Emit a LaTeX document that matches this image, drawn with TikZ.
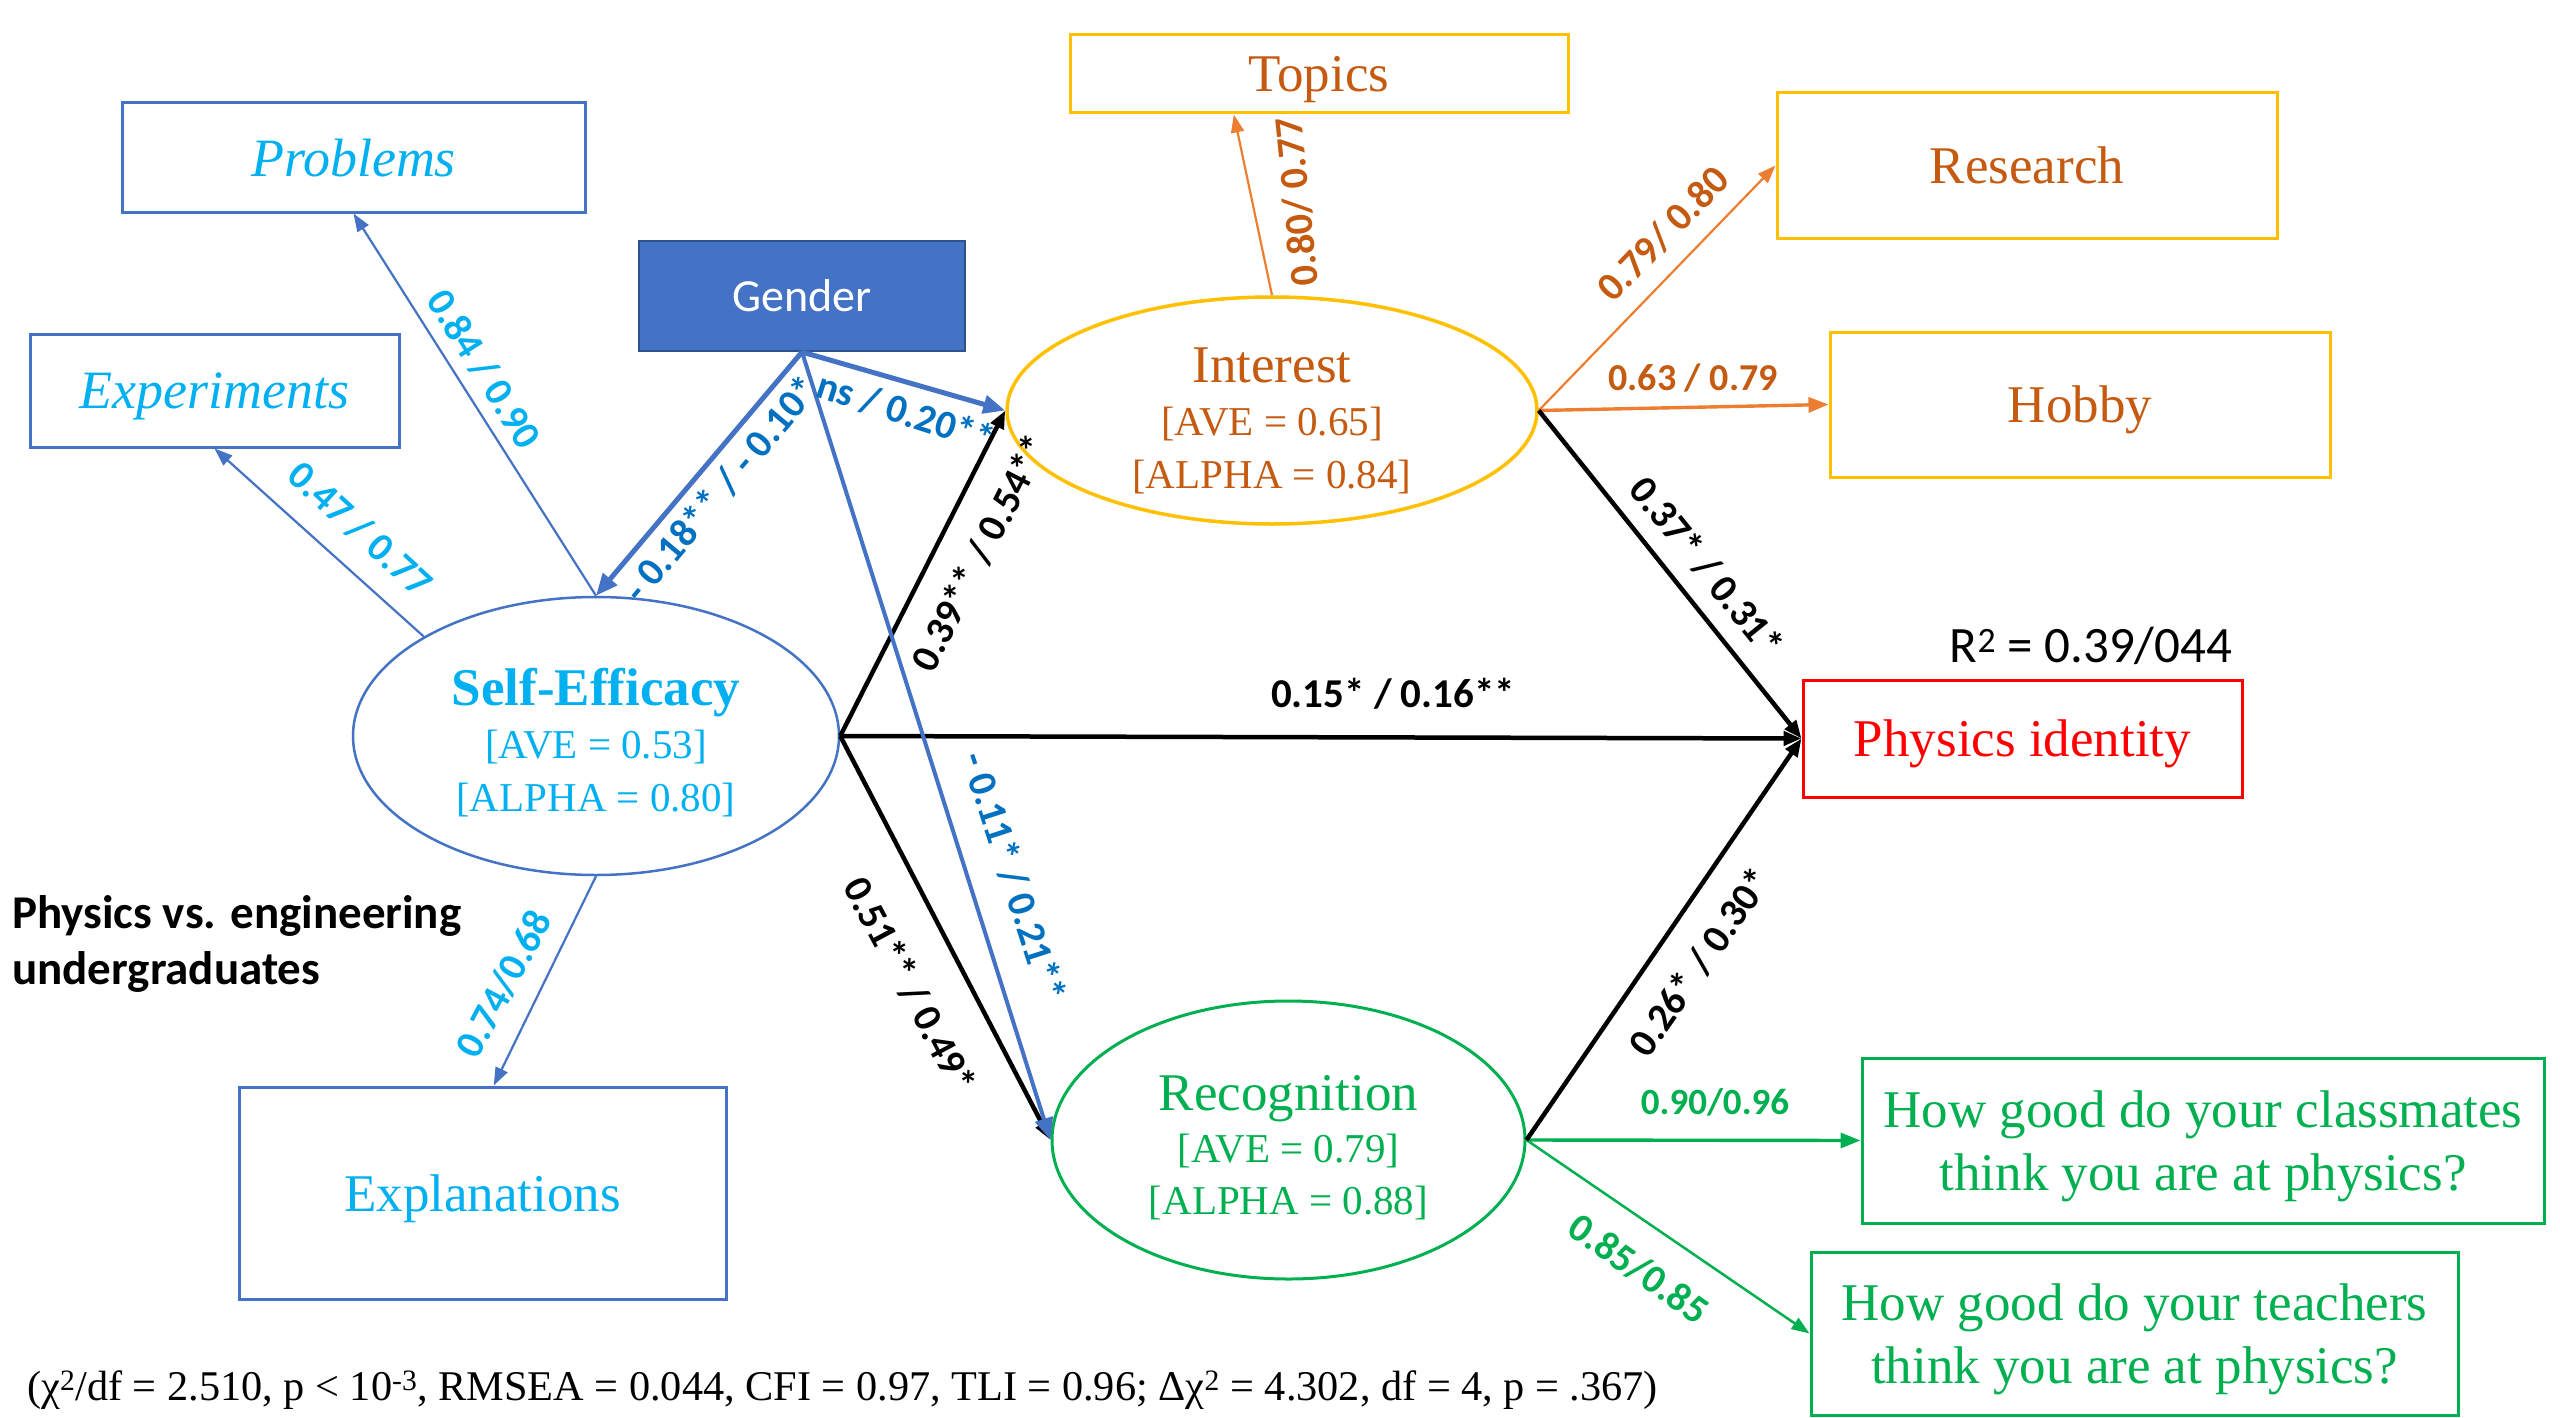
\documentclass[tikz,border=0pt]{standalone}
\usepackage{fontspec}
\setmainfont{Liberation Serif}
\newfontfamily\calfont{Carlito}
\usetikzlibrary{arrows.meta,shapes.geometric,calc}
\definecolor{seblue}{HTML}{4472C4}
\definecolor{gborder}{HTML}{2F528F}
\definecolor{cyanT}{HTML}{00B0F0}
\definecolor{gblue}{HTML}{0070C0}
\definecolor{brownT}{HTML}{C55A11}
\definecolor{orangeL}{HTML}{ED7D31}
\definecolor{goldC}{HTML}{FFC000}
\definecolor{greenC}{HTML}{00B050}
\definecolor{redC}{HTML}{FF0000}
\newcommand\ctext[2]{\makebox[0pt][c]{\raisebox{#1}[0pt][0pt]{\parbox[t]{600pt}{\centering #2}}}}
\tikzset{
  box/.style={draw, rectangle, line width=3pt, inner sep=0pt, align=center, text depth=-7pt},
  oval/.style={draw, ellipse, inner sep=0pt},
  lbl/.style={font=\calfont\bfseries\fontsize{40}{40}\selectfont, inner sep=0pt},
  bigfont/.style={font=\fontsize{53}{63}\selectfont},
  thinarrow/.style={line width=2.2pt, -{Triangle[length=18pt,width=13pt]}},
  midarrow/.style={line width=3.4pt, -{Triangle[length=20pt,width=15pt]}},
  gendarrow/.style={seblue, line width=5pt, -{Triangle[length=22pt,width=18pt]}},
  patharrow/.style={black, line width=4.5pt, -{Triangle[length=18pt,width=14pt]}}
}
\begin{document}
\begin{tikzpicture}[x=1pt,y=-1pt]
\useasboundingbox (0,0) rectangle (2560,1418);
\fill[white] (0,0) rectangle (2560,1418);

% indicator boxes
\node[box, draw=seblue, text=cyanT, minimum width=463pt, minimum height=109pt,
      font=\fontsize{54}{54}\selectfont\itshape] (prob) at (353.5,157.5) {Problems};
\node[box, draw=seblue, text=cyanT, minimum width=369pt, minimum height=113pt,
      font=\fontsize{54}{54}\selectfont\itshape] (exp) at (214.5,390.5) {Experiments};
\node[box, draw=seblue, text=cyanT, minimum width=487pt, minimum height=212pt,
      bigfont] (expl) at (482.5,1193) {Explanations};
\node[box, draw=gborder, fill=seblue, text=white, line width=2pt, minimum width=326pt, minimum height=110pt,
      text depth=0pt, font=\calfont\fontsize{46}{46}\selectfont] (gender) at (802,296) {Gender};
\node[box, draw=goldC, text=brownT, minimum width=498pt, minimum height=78pt, bigfont] (topics) at (1319,74) {Topics};
\node[box, draw=goldC, text=brownT, minimum width=500pt, minimum height=145pt, bigfont] (res) at (2027,165.5) {Research};
\node[box, draw=goldC, text=brownT, minimum width=500pt, minimum height=145pt, bigfont] (hob) at (2080,404.5) {Hobby};
\node[box, draw=redC, text=redC, minimum width=439pt, minimum height=117pt, bigfont] (pi) at (2022.5,738.5) {Physics identity};
\node[box, draw=greenC, text=greenC, minimum width=682pt, minimum height=165pt, bigfont] (q1) at (2203,1140.5)
  {How good do your classmates\\think you are at physics?};
\node[box, draw=greenC, text=greenC, minimum width=647pt, minimum height=163pt, bigfont] (q2) at (2134.5,1333.5)
  {How good do your teachers\\think you are at physics?};

% latent ovals
\node[oval, draw=seblue, line width=2.5pt, text=cyanT, minimum width=486pt, minimum height=278pt] (se) at (596,736)
  {\ctext{31pt}{\fontsize{41}{53}\selectfont{\fontsize{53}{53}\selectfont\bfseries Self-Efficacy\par}[AVE = 0.53]\par[ALPHA = 0.80]}};
\node[oval, draw=goldC, line width=3.5pt, text=brownT, minimum width=530pt, minimum height=227pt] (int) at (1272,410.5)
  {\ctext{28pt}{\fontsize{41}{53}\selectfont{\fontsize{53}{54}\selectfont Interest\par}[AVE = 0.65]\par[ALPHA = 0.84]}};
\node[oval, draw=greenC, line width=3pt, text=greenC, minimum width=473pt, minimum height=278pt] (rec) at (1288.5,1140)
  {\ctext{29.5pt}{\fontsize{41}{52}\selectfont{\fontsize{53}{53}\selectfont Recognition\par}[AVE = 0.79]\par[ALPHA = 0.88]}};

% measurement arrows
\draw[thinarrow, seblue] (se.north) -- (prob.south);
\draw[thinarrow, seblue] (se.150) -- (exp.south);
\draw[thinarrow, seblue] (se.south) -- ($(expl.north west)!0.523!(expl.north east)$);
\draw[thinarrow, orangeL] (int.north) -- ($(topics.south west)!0.33!(topics.south east)$);
\draw[thinarrow, orangeL] (int.east) -- (res.west);
\draw[midarrow, orangeL] (int.east) -- (hob.west);
\draw[midarrow, greenC] (rec.east) -- (q1.west);
\draw[thinarrow, greenC, line width=2.5pt] (rec.east) -- (q2.west);

% structural paths
\draw[patharrow] (se.east) -- (int.west);
\draw[patharrow] (se.east) -- (pi.west);
\draw[patharrow] (se.east) -- (rec.west);
\draw[patharrow] (int.east) -- (pi.west);
\draw[patharrow] (rec.east) -- (pi.west);

% gender paths
\draw[gendarrow] (gender.south) -- (se.north);
\draw[gendarrow] (gender.south) -- (int.west);
\draw[gendarrow, line width=4pt] (gender.south) -- (rec.west);

% path labels
\node[lbl, text=cyanT, rotate=-57.9] (l1) at (484,369) {0.84 / 0.90};
\node[lbl, text=cyanT, rotate=-42.4] (l2) at (360,529) {0.47 / 0.77};
\node[lbl, text=gblue, rotate=50] (l3) at (721,489) {- 0.18** / - 0.10*};
\node[lbl, text=gblue, rotate=-18] (l4) at (906,412) {ns / 0.20**};
\node[lbl, text=gblue, rotate=-72] (l5) at (1014,877) {- 0.11* / 0.21**};
\node[lbl, rotate=63] (l6) at (980,553) {0.39** / 0.54**};
\node[lbl, font=\calfont\bfseries\fontsize{41}{41}\selectfont] (l7) at (1393,694) {0.15* / 0.16**};
\node[lbl, rotate=-62] (l8) at (910,985) {0.51** / 0.49*};
\node[lbl, rotate=-51] (l9) at (1707,567) {0.37* / 0.31*};
\node[lbl, rotate=55] (l10) at (1700,962) {0.26* / 0.30*};
\node[lbl, text=cyanT, rotate=62] (l11) at (504,984) {0.74/0.68};
\node[lbl, text=brownT, rotate=96] (l12) at (1297,202) {0.80/ 0.77};
\node[lbl, text=brownT, rotate=46] (l13) at (1663,234) {0.79/ 0.80};
\node[lbl, text=brownT, font=\calfont\bfseries\fontsize{38}{38}\selectfont] (l14) at (1693,378) {0.63 / 0.79};
\node[lbl, text=greenC, font=\calfont\bfseries\fontsize{37}{37}\selectfont] (l15) at (1715,1102) {0.90/0.96};
\node[lbl, text=greenC, rotate=-35] (l16) at (1639,1269) {0.85/0.85};

% other texts
\node[inner sep=0pt, anchor=base, font=\calfont\fontsize{51}{51}\selectfont] (r2) at (2091,662) {R\textsuperscript{2} = 0.39/044};
\node[inner sep=0pt, anchor=base west] (grp) at (12,928)
  {\parbox[t]{700pt}{\raggedright\calfont\bfseries\fontsize{47}{56}\selectfont Physics vs. engineering\par undergraduates}};
\node[inner sep=0pt, anchor=base west, font=\fontsize{42.3}{42.3}\selectfont] (fit) at (27,1400)
  {(χ\textsuperscript{2}/df = 2.510, p < 10\textsuperscript{-3}, RMSEA = 0.044, CFI = 0.97, TLI = 0.96; Δχ\textsuperscript{2} = 4.302, df = 4, p = .367)};
\end{tikzpicture}
\end{document}
